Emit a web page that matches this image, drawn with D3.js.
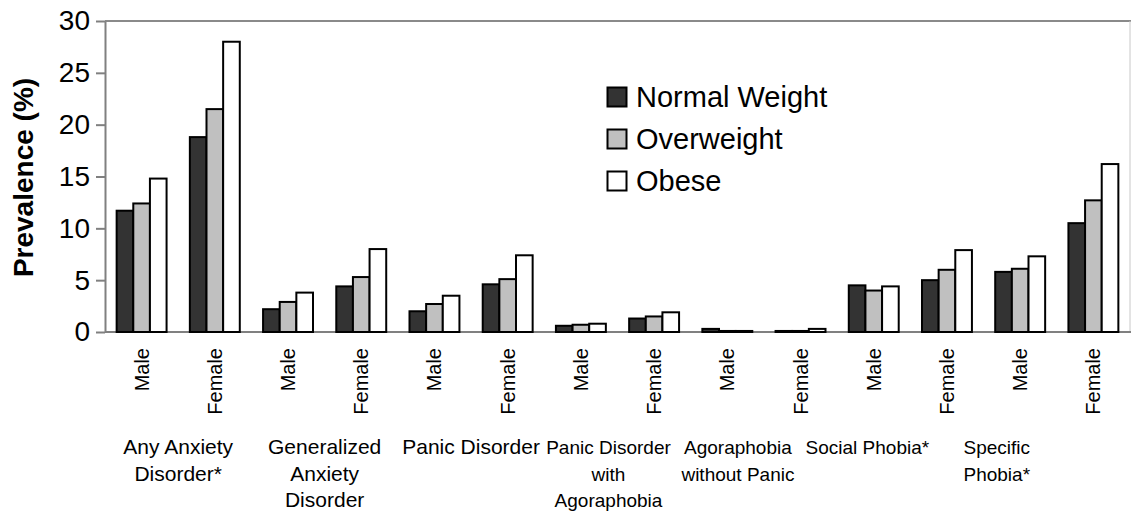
<!DOCTYPE html>
<html>
<head>
<meta charset="utf-8">
<script src="https://cdnjs.cloudflare.com/ajax/libs/d3/7.8.5/d3.min.js"></script>
<style>
  body { margin: 0; background: #fff; }
  text { font-family: "Liberation Sans", Arial, sans-serif; fill: #000; }
</style>
</head>
<body>
<div id="container"></div>
<script>
// chart data
var disorders = [
  ["Any Anxiety", "Disorder*"],
  ["Generalized", "Anxiety", "Disorder"],
  ["Panic Disorder"],
  ["Panic Disorder", "with", "Agoraphobia"],
  ["Agoraphobia", "without Panic"],
  ["Social Phobia*"],
  ["Specific", "Phobia*"]
];
var sexes = ["Male", "Female"];
var series = ["Normal Weight", "Overweight", "Obese"];

// one value per disorder x sex column (Male, Female, Male, Female, ...)
var normalWeight = [11.7, 18.8, 2.2, 4.4, 2.0, 4.6, 0.6, 1.3, 0.3, 0.1, 4.5, 5.0, 5.8, 10.5];
var overweight   = [12.4, 21.5, 2.9, 5.3, 2.7, 5.1, 0.7, 1.5, 0.1, 0.1, 4.0, 6.0, 6.1, 12.7];
var obese        = [14.8, 28.0, 3.8, 8.0, 3.5, 7.4, 0.8, 1.9, 0.1, 0.3, 4.4, 7.9, 7.3, 16.2];

var yTicks = [0, 5, 10, 15, 20, 25, 30];

// set dimensions
var w = 1131,
    h = 518,
    margin = { top: 21, right: 1, bottom: 186, left: 105 };

var svg = d3.select("div#container")
  .append("svg")
  .attr("width", w)
  .attr("height", h);

// columns: every disorder split by sex
var columns = [];
disorders.forEach(function(d, i) {
  sexes.forEach(function(s) { columns.push(i + "-" + s); });
});
var values = [normalWeight, overweight, obese];

var x = d3.scaleBand()
  .domain(columns)
  .range([margin.left, w - margin.right])
  .paddingInner(0.318)
  .paddingOuter(0.159);

var x1 = d3.scaleBand()
  .domain(series)
  .range([0, x.bandwidth()]);

var y = d3.scaleLinear()
  .domain([0, 30])
  .range([h - margin.bottom, margin.top]);

var color = d3.scaleOrdinal()
  .domain(series)
  .range(["#333333", "#c0c0c0", "#ffffff"]);

// plot frame: top and right edges
svg.append("line")
  .attr("x1", margin.left).attr("x2", w)
  .attr("y1", y(30)).attr("y2", y(30))
  .attr("stroke", "#8a8a8a").attr("stroke-width", 2);
svg.append("line")
  .attr("x1", w - 1).attr("x2", w - 1)
  .attr("y1", y(30)).attr("y2", y(0))
  .attr("stroke", "#c8c8c8").attr("stroke-width", 1);

// y axis
var yAxis = svg.append("g")
  .attr("transform", "translate(" + margin.left + ",0)")
  .call(d3.axisLeft(y).tickValues(yTicks).tickSize(9).tickPadding(6).tickSizeOuter(0));
yAxis.select(".domain").attr("stroke", "#808080").attr("stroke-width", 2);
yAxis.selectAll(".tick line").attr("stroke", "#808080").attr("stroke-width", 2);
yAxis.selectAll(".tick text")
  .style("font-size", "28px")
  .style("font-family", "'Liberation Sans', Arial, sans-serif")
  .attr("fill", "#000");

// baseline
svg.append("line")
  .attr("x1", margin.left).attr("x2", w)
  .attr("y1", y(0)).attr("y2", y(0))
  .attr("stroke", "#808080").attr("stroke-width", 2);

// y label
svg.append("text")
  .attr("transform", "translate(33," + (y(15) + 1) + ") rotate(-90)")
  .attr("text-anchor", "middle")
  .style("font-size", "28px")
  .style("font-weight", "bold")
  .text("Prevalence (%)");

// bars
var groups = svg.append("g").selectAll("g")
  .data(columns)
  .enter().append("g")
  .attr("transform", function(d) { return "translate(" + x(d) + ",0)"; });

groups.selectAll("rect")
  .data(function(d, i) {
    return series.map(function(s, k) { return { key: s, value: values[k][i] }; });
  })
  .enter().append("rect")
  .attr("x", function(d) { return x1(d.key); })
  .attr("width", x1.bandwidth())
  .attr("y", function(d) { return y(d.value); })
  .attr("height", function(d) { return y(0) - y(d.value); })
  .attr("fill", function(d) { return color(d.key); })
  .attr("stroke", "#000")
  .attr("stroke-width", 2);

// sex tick labels (rotated)
svg.append("g").selectAll("text")
  .data(columns)
  .enter().append("text")
  .attr("transform", function(d) {
    return "translate(" + (x(d) + x.bandwidth() / 2) + "," + (y(0) + 16) + ") rotate(-90)";
  })
  .attr("text-anchor", "end")
  .attr("dy", "0.35em")
  .style("font-size", "20px")
  .text(function(d) { return d.split("-")[1]; });

// disorder labels: text boxes drift left of the group centres towards the right
function mid(i) {
  return x(columns[2 * i]) + (x(columns[2 * i + 1]) - x(columns[2 * i]) + x.bandwidth()) / 2;
}
var labelX = d3.scaleLinear()
  .domain([0, 2, 3, 6])
  .range([mid(0), mid(2), mid(3) - 9, mid(6) - 60]);

var groupLabel = svg.append("g").selectAll("text")
  .data(disorders)
  .enter().append("text")
  .attr("text-anchor", "middle")
  .attr("x", function(d, i) { return labelX(i); })
  .attr("y", y(0) + 122)
  .style("font-size", function(d, i) { return i < 3 ? "21px" : "19px"; });

groupLabel.selectAll("tspan")
  .data(function(d) { return d; })
  .enter().append("tspan")
  .attr("x", function() { return d3.select(this.parentNode).attr("x"); })
  .attr("dy", function(d, i) { return i === 0 ? 0 : 26.7; })
  .text(function(d) { return d; });

// legend
var legend = svg.append("g")
  .attr("transform", "translate(607,87)");

var item = legend.selectAll("g")
  .data(series)
  .enter().append("g")
  .attr("transform", function(d, i) { return "translate(0," + i * 42 + ")"; });

item.append("rect")
  .attr("width", 19)
  .attr("height", 19)
  .attr("x", 0.5).attr("y", 0.5)
  .attr("fill", function(d) { return color(d); })
  .attr("stroke", "#000")
  .attr("stroke-width", 2);

item.append("text")
  .attr("x", 29)
  .attr("y", 10)
  .attr("dy", "0.35em")
  .style("font-size", "29px")
  .text(function(d) { return d; });
</script>
</body>
</html>
